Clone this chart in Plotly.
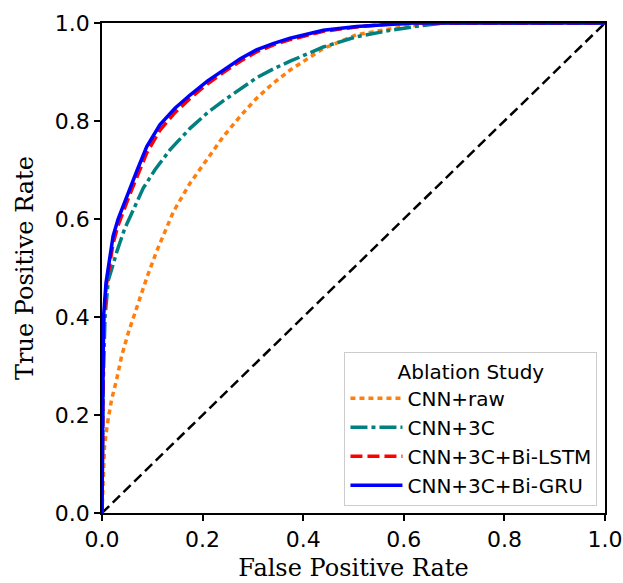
import plotly.graph_objects as go

# ---- data ----
raw_fpr = [0, 0.001, 0.002, 0.005, 0.011, 0.019, 0.029, 0.039, 0.052, 0.069, 0.089, 0.109,
           0.142, 0.175, 0.21, 0.241, 0.275, 0.307, 0.34, 0.374, 0.44, 0.506, 0.573, 0.63,
           0.68, 0.8, 0.9, 1.0]
raw_tpr = [0, 0.04, 0.069, 0.137, 0.184, 0.231, 0.272, 0.32, 0.367, 0.42, 0.48, 0.535,
           0.615, 0.673, 0.725, 0.768, 0.81, 0.846, 0.877, 0.904, 0.948, 0.976, 0.988, 0.996,
           1.0, 1.0, 1.0, 1.0]

c3_fpr = [0, 0.002, 0.006, 0.0125, 0.02, 0.03, 0.045, 0.06, 0.082, 0.105, 0.135, 0.175,
          0.21, 0.241, 0.275, 0.307, 0.34, 0.374, 0.44, 0.506, 0.573, 0.63, 0.68, 0.8, 0.9, 1.0]
c3_tpr = [0, 0.25, 0.40, 0.475, 0.50, 0.535, 0.58, 0.615, 0.663, 0.70, 0.741, 0.785,
          0.817, 0.841, 0.866, 0.888, 0.906, 0.922, 0.951, 0.972, 0.985, 0.994, 1.0, 1.0, 1.0, 1.0]

lstm_fpr = [0, 0.001, 0.003, 0.008, 0.015, 0.022, 0.032, 0.042, 0.056, 0.07, 0.089, 0.115,
            0.145, 0.175, 0.21, 0.241, 0.275, 0.307, 0.34, 0.374, 0.44, 0.506, 0.56, 0.62,
            0.7, 0.8, 0.9, 1.0]
lstm_tpr = [0, 0.22, 0.38, 0.46, 0.51, 0.55, 0.587, 0.615, 0.652, 0.687, 0.735, 0.781,
            0.817, 0.846, 0.876, 0.899, 0.922, 0.941, 0.955, 0.966, 0.983, 0.992, 0.997, 1.0,
            1.0, 1.0, 1.0, 1.0]

gru_fpr = [0, 0.001, 0.003, 0.008, 0.015, 0.022, 0.032, 0.042, 0.056, 0.07, 0.089, 0.115,
           0.145, 0.175, 0.21, 0.241, 0.275, 0.307, 0.34, 0.374, 0.44, 0.506, 0.56, 0.62,
           0.7, 0.8, 0.9, 1.0]
gru_tpr = [0, 0.25, 0.40, 0.47, 0.52, 0.565, 0.60, 0.627, 0.666, 0.70, 0.748, 0.792,
           0.826, 0.853, 0.882, 0.904, 0.927, 0.945, 0.958, 0.969, 0.985, 0.993, 0.997, 1.0,
           1.0, 1.0, 1.0, 1.0]

chance = [0, 1]
tick_vals = [0.0, 0.2, 0.4, 0.6, 0.8, 1.0]

series = [
    ("CNN+raw", raw_fpr, raw_tpr, "#ff7f0e", "5px,4px", 3.5),
    ("CNN+3C", c3_fpr, c3_tpr, "#008080", "17px,4px,4px,4px", 3.5),
    ("CNN+3C+Bi-LSTM", lstm_fpr, lstm_tpr, "#ff0000", "12px,5px", 3.5),
    ("CNN+3C+Bi-GRU", gru_fpr, gru_tpr, "#0000ff", "solid", 3.5),
]

fig = go.Figure()
fig.add_trace(go.Scatter(x=chance, y=chance, mode="lines", showlegend=False,
                         line=dict(color="black", width=2.5, dash="10px,5px"),
                         hoverinfo="skip"))
for name, x, y, col, dash, w in series:
    fig.add_trace(go.Scatter(x=x, y=y, mode="lines", name=name,
                             line=dict(color=col, width=w, dash=dash)))

axis_common = dict(
    range=[0, 1], tickvals=tick_vals, tickformat=".1f",
    showline=True, mirror=True, linecolor="black", linewidth=1.8,
    ticks="outside", ticklen=6, tickwidth=1.8, tickcolor="black",
    showgrid=False, zeroline=False, automargin=False,
    tickfont=dict(family="DejaVu Sans", size=22, color="black"),
)

fig.update_layout(
    width=623, height=583,
    margin=dict(l=102, r=18, t=23, b=70),
    plot_bgcolor="white", paper_bgcolor="white",
    xaxis=dict(title=dict(text="False Positive Rate", standoff=8,
                          font=dict(family="DejaVu Serif", size=24, color="black")),
               **axis_common),
    yaxis=dict(title=dict(text="True Positive Rate", standoff=14,
                          font=dict(family="DejaVu Serif", size=24, color="black")),
               **axis_common),
    legend=dict(
        title=dict(text="Ablation Study", side="top center",
                   font=dict(family="DejaVu Sans", size=20, color="black")),
        font=dict(family="DejaVu Sans", size=20, color="black"),
        x=0.985, y=0.015, xanchor="right", yanchor="bottom",
        bgcolor="white", bordercolor="#cccccc", borderwidth=1,
        itemwidth=52, tracegroupgap=0,
    ),
)

# remove the browser's default 8px body margin so the figure fills the window
fig.write_html("out.html", config={"displayModeBar": False},
               post_script="document.body.style.margin='0';")
